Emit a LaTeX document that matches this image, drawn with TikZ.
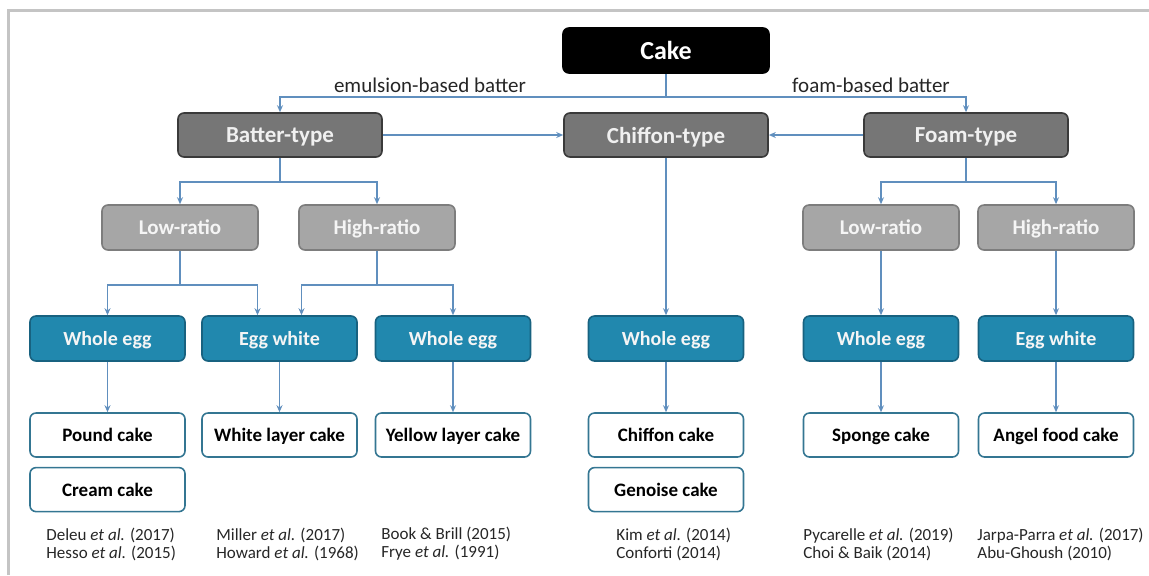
\documentclass[tikz,border=0pt]{standalone}
\usepackage{fontspec}
\setmainfont{Carlito}
\usetikzlibrary{positioning, arrows.meta}

\definecolor{linkblue}{RGB}{96,143,190}
\definecolor{framegray}{RGB}{196,196,196}
\definecolor{typefill}{RGB}{118,118,118}
\definecolor{typedraw}{RGB}{58,58,58}
\definecolor{ratiofill}{RGB}{166,166,166}
\definecolor{ratiodraw}{RGB}{125,125,125}
\definecolor{eggfill}{RGB}{33,136,174}
\definecolor{eggdraw}{RGB}{24,98,128}
\definecolor{cakedraw}{RGB}{52,118,146}

\begin{document}
\begin{tikzpicture}[
    x=0.5pt, y=-0.5pt,
    box/.style={rectangle, rounded corners=3pt, line width=0.8pt, inner sep=2pt,
        font=\bfseries, text depth=0pt},
    rootbox/.style={box, fill=black, draw=black, text=white, font=\bfseries\fontsize{13}{15}\selectfont,
        minimum width=103pt, minimum height=22.5pt},
    typebox/.style={box, fill=typefill, draw=typedraw, text=white!94!black,
        font=\bfseries\fontsize{11.5}{13}\selectfont, minimum width=102pt, minimum height=22pt},
    ratiobox/.style={box, fill=ratiofill, draw=ratiodraw, text=white!96!black,
        font=\bfseries\fontsize{10.5}{12}\selectfont, minimum width=78pt, minimum height=22.5pt},
    eggbox/.style={box, fill=eggfill, draw=eggdraw, text=white!96!black,
        font=\bfseries\fontsize{10}{12}\selectfont, minimum width=77.5pt, minimum height=22.5pt},
    cakebox/.style={box, fill=white, draw=cakedraw, text=black,
        font=\bfseries\fontsize{9.5}{11}\selectfont, minimum width=77.5pt, minimum height=22pt},
    refs/.style={anchor=west, align=left, inner sep=0pt, text=black!85,
        font=\fontsize{8.5}{9}\selectfont},
    branch/.style={font=\fontsize{10.5}{12}\selectfont, text=black!85, inner sep=1pt},
    conn/.style={draw=linkblue, line width=0.7pt, -{Stealth[length=3.5pt, width=3pt]}},
]
\useasboundingbox (0,0) rectangle (1149,575);

% frame
\draw[framegray, line width=1.5pt] (8,575) -- (8,10.5) -- (1149,10.5);

% levels
\node[rootbox] (cake) at (666,50.5) {Cake};

\node[typebox] (batter) at (280,135) {Batter-type};
\node[typebox] (chiffon) at (666,135) {Chiffon-type};
\node[typebox] (foam) at (966,135) {Foam-type};

\node[ratiobox] (lowA) at (180,227.5) {Low-ratio};
\node[ratiobox] (highA) at (377,227.5) {High-ratio};
\node[ratiobox] (lowB) at (881,227.5) {Low-ratio};
\node[ratiobox] (highB) at (1056,227.5) {High-ratio};

\node[eggbox] (wholeA) at (107.5,338.5) {Whole egg};
\node[eggbox] (whiteA) at (279.5,338.5) {Egg white};
\node[eggbox] (wholeB) at (453,338.5) {Whole egg};
\node[eggbox] (wholeC) at (666,338.5) {Whole egg};
\node[eggbox] (wholeD) at (881,338.5) {Whole egg};
\node[eggbox] (whiteB) at (1056,338.5) {Egg white};

\node[cakebox] (pound) at (107.5,435) {Pound cake};
\node[cakebox, below=4.5pt of pound] (cream) {Cream cake};
\node[cakebox] (whitelayer) at (279.5,435) {White layer cake};
\node[cakebox] (yellowlayer) at (453,435) {Yellow layer cake};
\node[cakebox] (chiffoncake) at (666,435) {Chiffon cake};
\node[cakebox, below=4.5pt of chiffoncake] (genoise) {Genoise cake};
\node[cakebox] (sponge) at (881,435) {Sponge cake};
\node[cakebox] (angel) at (1056,435) {Angel food cake};

% references
\node[refs] (refA) at (46,544) {Deleu \textit{et al.} (2017)\\Hesso \textit{et al.} (2015)};
\node[refs] (refB) at (216,544) {Miller \textit{et al.} (2017)\\Howard \textit{et al.} (1968)};
\node[refs] (refC) at (381,544) {Book \& Brill (2015)\\Frye \textit{et al.} (1991)};
\node[refs] (refD) at (616,544) {Kim \textit{et al.} (2014)\\Conforti (2014)};
\node[refs] (refE) at (803,544) {Pycarelle \textit{et al.} (2019)\\Choi \& Baik (2014)};
\node[refs] (refF) at (977,544) {Jarpa-Parra \textit{et al.} (2017)\\Abu-Ghoush (2010)};

% connectors
\coordinate (topbus) at (666,97);
\node[branch] (emul) at (430,85) {emulsion-based batter};
\node[branch] (foamlbl) at (871,85) {foam-based batter};
\draw[conn] (cake.south) -- (topbus) -| (batter.north);
\draw[conn] (topbus) -| (foam.north);

\draw[conn] (batter) -- (chiffon);
\draw[conn] (foam) -- (chiffon);

\coordinate (busA) at (280,182);
\draw[conn] (batter.south) -- (busA) -| (lowA.north);
\draw[conn] (busA) -| (highA.north);
\coordinate (busB) at (966,182);
\draw[conn] (foam.south) -- (busB) -| (lowB.north);
\draw[conn] (busB) -| (highB.north);

\coordinate (busC) at (180,285);
\draw[conn] (lowA.south) -- (busC) -| (wholeA.north);
\draw[conn] (busC) -| ([xshift=-11pt]whiteA.north);
\coordinate (busD) at (377,285);
\draw[conn] (highA.south) -- (busD) -| ([xshift=11pt]whiteA.north);
\draw[conn] (busD) -| (wholeB.north);

\draw[conn] (chiffon) -- (wholeC);
\draw[conn] (lowB) -- (wholeD);
\draw[conn] (highB) -- (whiteB);

\draw[conn] (wholeA) -- (pound);
\draw[conn] (whiteA) -- (whitelayer);
\draw[conn] (wholeB) -- (yellowlayer);
\draw[conn] (wholeC) -- (chiffoncake);
\draw[conn] (wholeD) -- (sponge);
\draw[conn] (whiteB) -- (angel);

\end{tikzpicture}
\end{document}
